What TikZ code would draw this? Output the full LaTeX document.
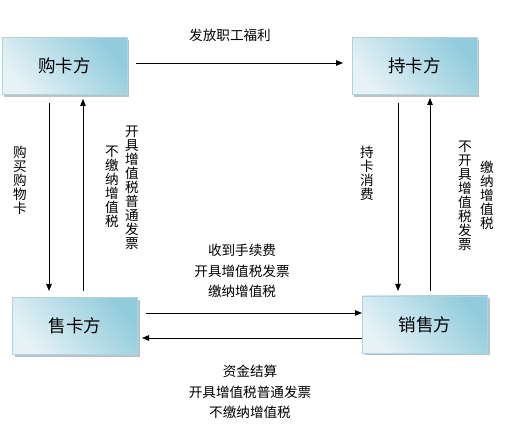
\documentclass[tikz,border=0pt]{standalone}
\usepackage{fontspec}
\setmainfont{Noto Sans CJK SC}
\usetikzlibrary{arrows.meta,shadows}
\definecolor{boxdark}{HTML}{92CCDC}
\definecolor{boxlight}{HTML}{E6F2F6}
\definecolor{boxedge}{HTML}{A9D6E2}
\tikzset{
  party/.style={draw=boxedge, line width=0.6pt, shading=axis, top color=boxdark, bottom color=boxlight, shading angle=-50,
    minimum width=125pt, minimum height=57pt, inner sep=0pt, font=\fontsize{17.5}{20}\selectfont,
    drop shadow={shadow xshift=2pt, shadow yshift=-2.5pt, fill=black!45, opacity=0.55}},
  flow/.style={line width=0.8pt, -{Triangle[length=7pt,width=5.5pt]}},
  lbl/.style={inner sep=0pt, align=center, font=\fontsize{13.6}{20.5}\selectfont},
  vlbl/.style={inner sep=0pt, align=center, font=\fontsize{13.6}{14}\selectfont, anchor=north}
}
\begin{document}
\begin{tikzpicture}[x=1pt,y=-1pt]
\useasboundingbox (0,0) rectangle (509,430);
\node[party] (gk) at (64.5,66) {购卡方};
\node[party] (ck) at (414.5,66) {持卡方};
\node[party] (sk) at (75,326) {售卡方};
\node[party] (xs) at (425,324.5) {销售方};

\coordinate (a1s) at (136,63); \coordinate (a1e) at (343,63);
\draw[flow] (a1s) -- (a1e);
\node[lbl] (t1) at (230,35) {发放职工福利};

\coordinate (l1s) at (49,103); \coordinate (l1e) at (49,291);
\draw[flow] (l1s) -- (l1e);
\coordinate (l2s) at (83,291); \coordinate (l2e) at (83,99);
\draw[flow] (l2s) -- (l2e);
\node[vlbl] (t2) at (20,146) {购\\买\\购\\物\\卡};
\node[vlbl] (t3) at (112,146) {不\\缴\\纳\\增\\值\\税};
\node[vlbl] (t4) at (132,126) {开\\具\\增\\值\\税\\普\\通\\发\\票};

\coordinate (r1s) at (398,103); \coordinate (r1e) at (398,291);
\draw[flow] (r1s) -- (r1e);
\coordinate (r2s) at (430,291); \coordinate (r2e) at (430,98);
\draw[flow] (r2s) -- (r2e);
\node[vlbl] (t5) at (367,146) {持\\卡\\消\\费};
\node[vlbl] (t6) at (465,141) {不\\开\\具\\增\\值\\税\\发\\票};
\node[vlbl] (t7) at (487,161) {缴\\纳\\增\\值\\税};

\coordinate (b1s) at (146,313); \coordinate (b1e) at (362,313);
\draw[flow] (b1s) -- (b1e);
\coordinate (b2s) at (362,338); \coordinate (b2e) at (142,338);
\draw[flow] (b2s) -- (b2e);
\node[lbl] (t8) at (242,271) {收到手续费\\开具增值税发票\\缴纳增值税};
\node[lbl] (t9) at (250,392) {资金结算\\开具增值税普通发票\\不缴纳增值税};
\end{tikzpicture}
\end{document}
